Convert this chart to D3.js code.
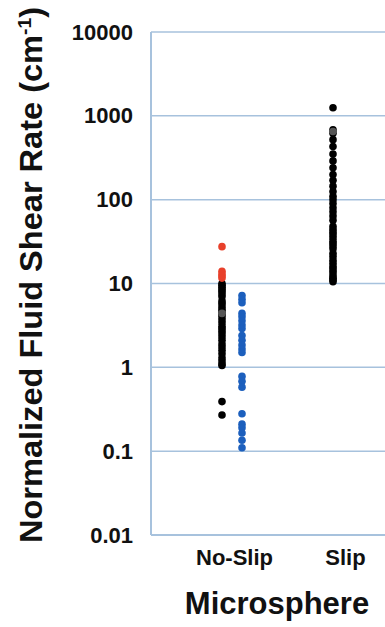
<!DOCTYPE html>
<html>
<head>
<meta charset="utf-8">
<script src="https://cdn.jsdelivr.net/npm/d3@7"></script>
<style>
  html, body { margin: 0; padding: 0; background: #fff; }
  svg { display: block; font-family: "Liberation Sans", Arial, sans-serif; }
</style>
</head>
<body>
<div id="chart"></div>
<script>
const categories = ["No-Slip", "Slip"];
const yTicks = [0.01, 0.1, 1, 10, 100, 1000, 10000];

// black markers
const noSlipBlack = [10, 9.5, 9, 8.5, 8, 7.5, 7, 6.2, 5.8, 5.4, 5, 4.7, 4.3, 4, 3.7, 3.4, 3.1, 2.9,
  2.7, 2.5, 2.3, 2.1, 1.9, 1.75, 1.6, 1.45, 1.3, 1.2, 1.1, 1.05, 0.39, 0.27];
const slipBlack = [1250, 680, 620, 520, 430, 350, 290, 240, 200, 170, 145, 125, 110, 100,
  90, 80, 72, 64, 57, 48, 44, 41, 38, 35, 32, 30, 28, 26, 23, 21, 19, 17.5, 16, 15, 14, 13,
  12, 11.5, 11, 10.5];
// red markers (No-Slip, above 10)
const noSlipRed = [27.5, 14, 13, 12.3, 11.6];
// blue markers (No-Slip)
const noSlipBlue = [7.2, 6.5, 5.9, 4.4, 4.0, 3.6, 3.2, 2.9, 2.4, 2.1, 1.85, 1.65, 1.5,
  0.78, 0.68, 0.58, 0.28, 0.21, 0.19, 0.165, 0.135, 0.11];
// grey markers
const noSlipGrey = [4.4];
const slipGrey = [650];

const width = 385, height = 627;
const margin = { top: 32, right: -20, bottom: 92, left: 151 };

const svg = d3.select("#chart").append("svg")
  .attr("width", width)
  .attr("height", height);

const y = d3.scaleLog()
  .domain([0.01, 10000])
  .range([height - margin.bottom, margin.top]);

const x = d3.scalePoint()
  .domain(categories)
  .range([234, 345]);

const gridColor = "#a7c2dd";

// gridlines
svg.append("g")
  .selectAll("line")
  .data(yTicks.slice(1))
  .join("line")
  .attr("x1", margin.left)
  .attr("x2", width)
  .attr("y1", d => y(d))
  .attr("y2", d => y(d))
  .attr("stroke", gridColor)
  .attr("stroke-width", 1.5);

// plot frame (left and bottom)
svg.append("line")
  .attr("x1", margin.left).attr("x2", width)
  .attr("y1", y(0.01)).attr("y2", y(0.01))
  .attr("stroke", gridColor).attr("stroke-width", 2);
svg.append("line")
  .attr("x1", margin.left).attr("x2", margin.left)
  .attr("y1", y(10000)).attr("y2", y(0.01))
  .attr("stroke", gridColor).attr("stroke-width", 2);

// y axis labels
const yAxis = d3.axisLeft(y)
  .tickValues(yTicks)
  .tickFormat(d => d < 1 ? String(d) : d3.format("d")(d))
  .tickSize(0)
  .tickPadding(18);

svg.append("g")
  .attr("transform", `translate(${margin.left},0)`)
  .call(yAxis)
  .call(g => g.select(".domain").remove())
  .selectAll("text")
  .attr("font-family", "Liberation Sans, Arial, sans-serif")
  .attr("font-size", 22)
  .attr("font-weight", "bold")
  .attr("fill", "#111");

// x axis labels
const xAxis = d3.axisBottom(x).tickSize(0).tickPadding(14);
svg.append("g")
  .attr("transform", `translate(0,${y(0.01)})`)
  .call(xAxis)
  .call(g => g.select(".domain").remove())
  .selectAll("text")
  .attr("font-family", "Liberation Sans, Arial, sans-serif")
  .attr("font-size", 22)
  .attr("font-weight", "bold")
  .attr("fill", "#111");

// axis titles
svg.append("text")
  .attr("x", 277)
  .attr("y", 614)
  .attr("text-anchor", "middle")
  .attr("font-size", 31)
  .attr("font-weight", "bold")
  .attr("fill", "#111")
  .text("Microsphere");

const yTitle = svg.append("text")
  .attr("transform", "translate(42,275) rotate(-90)")
  .attr("text-anchor", "middle")
  .attr("font-size", 32)
  .attr("font-weight", "bold")
  .attr("fill", "#111")
  .attr("textLength", 536)
  .attr("lengthAdjust", "spacingAndGlyphs");
yTitle.append("tspan").text("Normalized Fluid Shear Rate (cm");
yTitle.append("tspan").attr("font-size", 19).attr("dy", -11).text("-1");
yTitle.append("tspan").attr("dy", 11).text(")");

// markers
const series = [
  { cat: "No-Slip", values: noSlipBlack, dx: -12, color: "#000" },
  { cat: "No-Slip", values: noSlipRed, dx: -12, color: "#e8402b" },
  { cat: "No-Slip", values: noSlipGrey, dx: -12, color: "#555" },
  { cat: "No-Slip", values: noSlipBlue, dx: 8, color: "#1c5fbd" },
  { cat: "Slip", values: slipBlack, dx: -12, color: "#000" },
  { cat: "Slip", values: slipGrey, dx: -12, color: "#555" }
];

series.forEach(s => {
  svg.append("g")
    .selectAll("circle")
    .data(s.values)
    .join("circle")
    .attr("cx", x(s.cat) + s.dx)
    .attr("cy", d => y(d))
    .attr("r", 3.8)
    .attr("fill", s.color);
});
</script>
</body>
</html>
